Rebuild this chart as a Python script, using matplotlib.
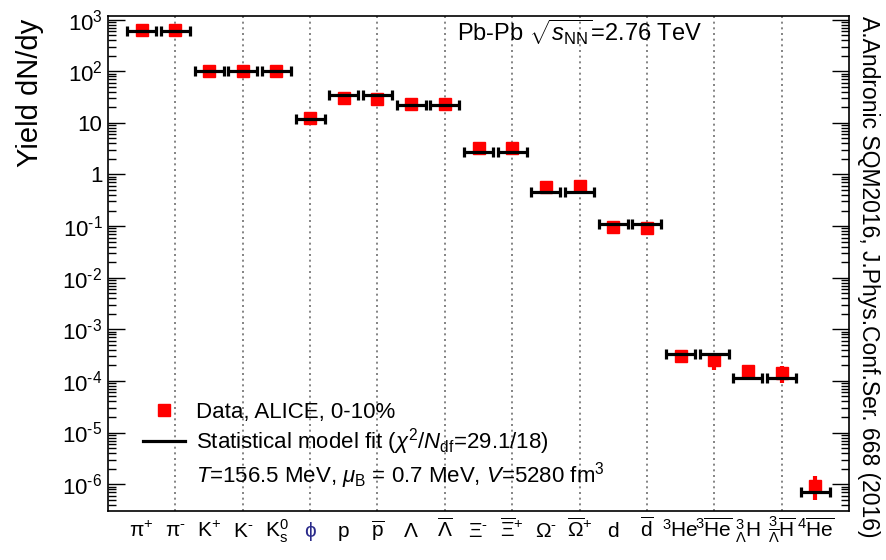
import numpy as np
import matplotlib
matplotlib.use('Agg')
import matplotlib.pyplot as plt
from matplotlib.lines import Line2D

plt.rcParams['font.family'] = ['Liberation Sans', 'DejaVu Sans']
plt.rcParams['mathtext.fontset'] = 'custom'
plt.rcParams['mathtext.rm'] = 'Liberation Sans'
plt.rcParams['mathtext.it'] = 'Liberation Sans:italic'
plt.rcParams['mathtext.bf'] = 'Liberation Sans:bold'

# particulas
labels = [r'$\mathrm{\pi}^{+}$', r'$\mathrm{\pi}^{\text{-}}$', r'$\mathrm{K}^{+}$', r'$\mathrm{K}^{\text{-}}$',
          r'$\mathrm{K}^{0}_{\mathrm{s}}$', r'$\mathrm{\phi}$', r'$\mathrm{p}$', r'$\overline{\mathrm{p}}$',
          r'$\mathrm{\Lambda}$', r'$\overline{\mathrm{\Lambda}}$', r'$\mathrm{\Xi}^{\text{-}}$',
          r'$\overline{\mathrm{\Xi}}^{+}$', r'$\mathrm{\Omega}^{\text{-}}$', r'$\overline{\mathrm{\Omega}}^{+}$',
          r'$\mathrm{d}$', r'$\overline{\mathrm{d}}$', r'$^{3}\mathrm{He}$', r'$^{3}\overline{\mathrm{He}}$',
          r'$^{3}_{\mathrm{\Lambda}}\mathrm{H}$', r'$^{3}_{\overline{\mathrm{\Lambda}}}\overline{\mathrm{H}}$',
          r'$^{4}\overline{\mathrm{He}}$']

# datos ALICE 0-10%
data = [640, 640, 100, 100, 100, 12.6, 30.3, 28.9, 22.9, 22.9, 3.28, 3.24, 0.57, 0.61,
        0.096, 0.093, 2.99e-4, 2.57e-4, 1.53e-4, 1.42e-4, 9.3e-7]
data_lo = [640, 640, 100, 100, 100, 12.6, 30.3, 28.9, 22.9, 22.9, 3.28, 3.24, 0.57, 0.61,
           0.096, 0.085, 2.3e-4, 1.65e-4, 1.05e-4, 9.06e-5, 5.0e-7]
data_hi = [640, 640, 100, 100, 100, 12.6, 30.3, 28.9, 22.9, 22.9, 3.28, 3.24, 0.57, 0.61,
           0.096, 0.100, 3.93e-4, 3.46e-4, 2.02e-4, 1.91e-4, 1.46e-6]

# ajuste modelo estadistico
model = [593, 593, 100, 100, 100, 11.9, 35.2, 35.2, 22.1, 22.1, 2.77, 2.77, 0.465, 0.465,
         0.110, 0.110, 3.37e-4, 3.37e-4, 1.14e-4, 1.14e-4, 6.9e-7]

ytick_labels = [r'$10^{3}$', r'$10^{2}$', '10', '1', r'$10^{\text{-}1}$', r'$10^{\text{-}2}$',
                r'$10^{\text{-}3}$', r'$10^{\text{-}4}$', r'$10^{\text{-}5}$', r'$10^{\text{-}6}$']

x = np.arange(len(labels))
data = np.array(data)
yerr = [data - np.array(data_lo), np.array(data_hi) - data]

fig = plt.figure(figsize=(8.87, 5.6), dpi=100)
ax = fig.add_axes([108 / 887, 1 - 511 / 560, 741 / 887, 495 / 560])

for xi in x[1::2][:10]:
    ax.axvline(xi, color='#707070', linestyle=(0, (1.2, 2.2)), linewidth=1.2, zorder=1)

ax.errorbar(x, data, yerr=yerr, fmt='s', color='red', markersize=8.5, elinewidth=3,
            capsize=0, zorder=2)
ax.errorbar(x, model, xerr=0.43, fmt='none', ecolor='black', elinewidth=2.3,
            capsize=3.5, capthick=2.3, zorder=3)

ax.set_yscale('log')
ax.set_ylim(10 ** -6.52, 10 ** 3.07)
ax.set_xlim(-1, 21)

ax.set_yticks([1e3, 1e2, 10, 1, 1e-1, 1e-2, 1e-3, 1e-4, 1e-5, 1e-6])
ax.set_yticklabels(ytick_labels, fontsize=16)
ax.yaxis.set_minor_locator(matplotlib.ticker.LogLocator(base=10, subs=np.arange(2, 10), numticks=20))
ax.yaxis.set_minor_formatter(matplotlib.ticker.NullFormatter())
ax.tick_params(axis='y', which='major', direction='in', length=12, width=1, right=True, pad=4)
ax.tick_params(axis='y', which='minor', direction='in', length=6, width=1, right=True)

ax.set_xticks(x)
ax.set_xticks(x[1::2][:10], minor=True)
ax.tick_params(axis='x', which='major', length=0, pad=18.7)
ax.tick_params(axis='x', which='minor', direction='in', length=5, width=1, top=False)
ax.set_xticklabels(labels, fontsize=15, va='baseline')
ax.get_xticklabels()[5].set_color('#2a2a8a')

for s in ax.spines.values():
    s.set_linewidth(1.2)

h1 = Line2D([], [], marker='s', color='red', linestyle='none', markersize=8.5)
h2 = Line2D([], [], color='black', linewidth=2.3)
h3 = Line2D([], [], color='none')
ax.legend([h1, h2, h3],
          ['Data, ALICE, 0-10%',
           r'Statistical model fit ($\chi^{2}/N_{\mathrm{df}}$=29.1/18)',
           r'$T$=156.5 MeV, $\mu_{\mathrm{B}}$ = 0.7 MeV, $V$=5280 fm$^{3}$'],
          loc='upper left', bbox_to_anchor=(0.047, 0.221), frameon=False, fontsize=16,
          handlelength=1.9, handletextpad=0.5, borderpad=0, borderaxespad=0, labelspacing=0.15)

ax.text(0.637, 0.968, r'Pb-Pb $\sqrt{s_{\mathrm{NN}}}$=2.76 TeV', transform=ax.transAxes,
        ha='center', va='center', fontsize=17)

fig.text(30 / 887, 1 - 93 / 560, 'Yield dN/dy', rotation=90, ha='center', va='center', fontsize=21)
fig.text(869 / 887, 1 - 277 / 560, 'A.Andronic SQM2016, J.Phys.Conf.Ser. 668 (2016)',
         rotation=-90, ha='center', va='center', fontsize=16.5)

fig.savefig('out.png', dpi=100)
